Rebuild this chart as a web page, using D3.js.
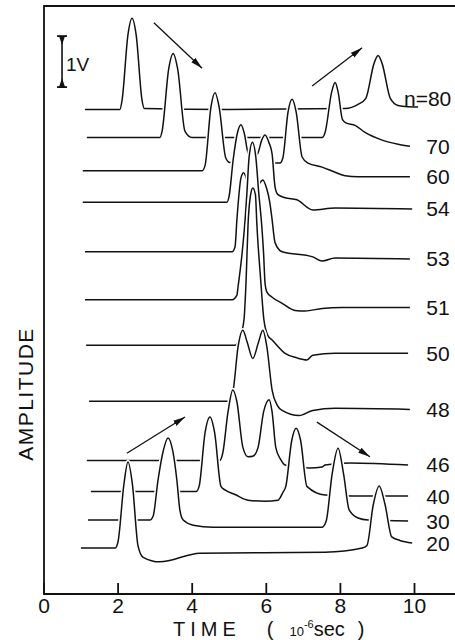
<!DOCTYPE html>
<html>
<head>
<meta charset="utf-8">
<script src="https://cdn.jsdelivr.net/npm/d3@7"></script>
<style>
body { margin: 0; background: #fff; }
svg text { font-family: "Liberation Sans", Arial, sans-serif; fill: #111; }
</style>
</head>
<body>
<script>
// section number of each trace, top to bottom
var labels = ["n=80", "70", "60", "54", "53", "51", "50", "48", "46", "40", "30", "20"];
// baseline of each trace (V above the time axis)
var offsets = [9.50, 8.95, 8.30, 7.68, 6.71, 5.77, 4.88, 3.78, 2.62, 2.01, 1.45, 0.90];

// [time (10^-6 sec), amplitude above own baseline (V)]
var trace80 = [[1.12,0],[2.06,0],[2.12,0.18],[2.28,1.47],[2.39,1.79],[2.50,1.47],[2.66,0.18],[2.72,0.02],[5.00,0],[8.14,0.02],[8.49,0.10],[8.70,0.22],[8.92,0.90],[9.03,1.06],[9.14,0.90],[9.36,0.22],[9.57,0.08],[9.76,0.06],[10.11,0.05]];
var trace70 = [[1.17,0],[3.14,0],[3.20,0.12],[3.38,1.35],[3.50,1.65],[3.62,1.35],[3.82,0.12],[4.01,0],[7.52,0],[7.60,0.10],[7.78,0.90],[7.87,1.08],[7.95,0.90],[8.07,0.35],[8.16,0.29],[8.41,0.24],[8.68,0.10],[9.14,-0.05],[9.57,-0.13],[9.89,-0.17]];
var trace60 = [[1.06,0],[4.28,0],[4.36,0.10],[4.52,1.25],[4.63,1.53],[4.74,1.25],[4.92,0.25],[5.03,0.16],[6.38,0.15],[6.46,0.25],[6.60,1.15],[6.71,1.40],[6.82,1.15],[6.98,0.27],[7.14,0.15],[7.52,0.07],[7.87,-0.03],[8.14,-0.10],[8.49,-0.12],[9.89,-0.12]];
var trace54 = [[1.06,0],[4.95,0],[5.01,0.12],[5.12,0.84],[5.24,1.38],[5.33,1.52],[5.42,1.35],[5.52,0.97],[5.65,0.86],[5.79,0.97],[5.89,1.22],[5.98,1.32],[6.08,1.18],[6.17,0.95],[6.25,0.30],[6.33,0.15],[6.52,0.09],[6.84,0.05],[7.27,-0.15],[7.87,-0.11],[9.95,-0.13]];
var trace53 = [[1.12,0],[5.09,0],[5.17,0.10],[5.22,0.63],[5.33,1.45],[5.40,1.55],[5.52,1.35],[5.65,1.25],[5.79,1.30],[5.92,1.41],[6.02,1.25],[6.11,0.96],[6.17,0.63],[6.25,0.18],[6.44,0],[7.27,-0.10],[7.52,-0.18],[7.87,-0.12],[9.89,-0.14]];
var trace51 = [[1.12,0],[5.09,0],[5.22,0.09],[5.25,0.25],[5.36,0.91],[5.44,1.56],[5.49,2.09],[5.55,2.80],[5.64,3.09],[5.73,2.80],[5.81,2.09],[5.89,1.46],[5.94,0.91],[5.98,0.32],[6.03,0.15],[6.17,0.05],[6.44,-0.07],[6.79,-0.21],[7.06,-0.22],[7.52,-0.17],[8.06,-0.15],[9.89,-0.15]];
var trace50 = [[1.15,0],[5.17,0],[5.30,0.15],[5.41,0.49],[5.47,1.30],[5.52,2.35],[5.59,2.95],[5.65,3.08],[5.72,2.95],[5.76,2.35],[5.86,1.30],[5.95,0.49],[6.06,0.18],[6.17,0.10],[6.52,-0.16],[6.84,-0.25],[7.11,-0.29],[7.27,-0.20],[7.87,-0.16],[9.84,-0.16]];
var trace48 = [[1.23,0],[4.98,0],[5.03,0.06],[5.12,0.22],[5.25,1.06],[5.38,1.39],[5.50,1.15],[5.65,0.84],[5.80,1.15],[5.92,1.39],[6.03,1.06],[6.17,0.22],[6.31,-0.08],[6.44,-0.18],[6.90,-0.28],[7.27,-0.18],[7.87,-0.14],[9.89,-0.16]];
var trace46 = [[1.17,0],[4.76,0],[4.84,0.15],[4.98,0.95],[5.11,1.38],[5.22,1.15],[5.38,0.26],[5.52,0.07],[5.65,0.08],[5.79,0.25],[5.94,0.95],[6.09,1.19],[6.17,0.95],[6.27,0.25],[6.40,0.02],[6.52,-0.09],[7.19,-0.15],[7.52,-0.13],[7.60,-0.09],[8.27,-0.05],[9.84,-0.09]];
var trace40 = [[1.28,0],[4.12,0],[4.20,0.10],[4.36,1.15],[4.49,1.46],[4.62,1.15],[4.79,0.10],[4.90,0.03],[5.17,-0.06],[5.52,-0.17],[5.98,-0.19],[6.33,-0.17],[6.46,-0.02],[6.54,0.10],[6.70,1.00],[6.82,1.24],[6.94,1.00],[7.11,0.10],[7.60,-0.07],[8.33,-0.09],[9.84,-0.09]];
var trace30 = [[1.20,0],[2.87,0],[2.96,0.08],[3.09,0.78],[3.23,1.35],[3.36,1.61],[3.49,1.35],[3.60,0.78],[3.68,0.20],[3.77,0],[4.04,-0.10],[4.58,-0.14],[7.52,-0.14],[7.63,-0.02],[7.79,0.90],[7.95,1.41],[8.10,0.90],[8.25,0.20],[8.49,0.04],[8.76,0],[9.84,-0.02]];
var trace20 = [[1.01,0],[1.93,0],[2.01,0.12],[2.17,1.25],[2.28,1.69],[2.40,1.25],[2.55,0.05],[2.69,-0.18],[3.14,-0.27],[4.22,-0.10],[7.60,-0.08],[8.60,0],[8.73,0.05],[8.90,0.85],[9.06,1.22],[9.22,0.85],[9.40,0.22],[9.62,0.15],[9.95,0.10]];

var traces = [trace80, trace70, trace60, trace54, trace53, trace51, trace50, trace48, trace46, trace40, trace30, trace20];

var timeTicks = [0, 2, 4, 6, 8, 10];

// arrows showing the two pulses moving: [t0, V0, t1, V1]
var arrows = [[2.98, 11.20, 4.28, 10.31], [7.25, 9.96, 8.60, 10.71], [2.25, 2.76, 3.82, 3.47], [7.38, 3.37, 8.81, 2.69]];

var width = 455;
var height = 640;

var svg = d3.select("body")
    .append("svg")
    .attr("width", width)
    .attr("height", height);

svg.append("rect").attr("width", width).attr("height", height).attr("fill", "#fff");

var x = d3.scaleLinear().domain([0, 10]).range([43.5, 414]);
var y = d3.scaleLinear().domain([0, 11.53]).range([594, 6]);

var line = d3.line()
    .x(function(d) { return x(d[0]); })
    .y(function(d) { return y(d[1]); })
    .curve(d3.curveMonotoneX);

var area = d3.area()
    .x(function(d) { return x(d[0]); })
    .y0(y(0))
    .y1(function(d) { return y(d[1]); })
    .curve(d3.curveMonotoneX);

// top trace first, so lower pulses hide the lines behind them
traces.forEach(function(tr, i) {
    var pts = tr.map(function(d) { return [d[0], d[1] + offsets[i]]; });
    var g = svg.append("g");
    g.append("path").datum(pts).attr("d", area).attr("fill", "#fff");
    g.append("path").datum(pts).attr("d", line)
        .attr("fill", "none").attr("stroke", "#fff").attr("stroke-width", 4.5);
    g.append("path").datum(pts).attr("d", line)
        .attr("fill", "none").attr("stroke", "#111").attr("stroke-width", 1.5)
        .attr("stroke-linejoin", "round");

    var last = tr[tr.length - 1];
    var ly = y(last[1] + offsets[i]);
    svg.append("text")
        .attr("x", i === 0 ? x(9.73) : x(10.33))
        .attr("y", i === 0 ? ly - 1 : ly + 7.5)
        .attr("font-size", 21)
        .text(labels[i]);
});

// arrow heads
var defs = svg.append("defs");
defs.append("marker")
    .attr("id", "head")
    .attr("viewBox", "0 0 12 8")
    .attr("refX", 12).attr("refY", 4)
    .attr("markerWidth", 12).attr("markerHeight", 8)
    .attr("markerUnits", "userSpaceOnUse")
    .attr("orient", "auto")
    .append("path").attr("d", "M0,1 L12,4 L0,7 Z").attr("fill", "#111");

svg.selectAll(".arrow")
    .data(arrows)
    .enter()
    .append("line")
    .attr("class", "arrow")
    .attr("x1", function(d) { return x(d[0]); })
    .attr("y1", function(d) { return y(d[1]); })
    .attr("x2", function(d) { return x(d[2]); })
    .attr("y2", function(d) { return y(d[3]); })
    .attr("stroke", "#111").attr("stroke-width", 1.3)
    .attr("marker-end", "url(#head)");

// 1V scale bar
var sbT = 0.5, sbLo = 9.94, sbHi = 10.94;
var sx = x(sbT);
var sb = svg.append("g").attr("stroke", "#111").attr("fill", "#111");
sb.append("line").attr("x1", sx).attr("x2", sx).attr("y1", y(sbHi)).attr("y2", y(sbLo)).attr("stroke-width", 1.6);
sb.append("line").attr("x1", sx - 5).attr("x2", sx + 5).attr("y1", y(sbHi)).attr("y2", y(sbHi)).attr("stroke-width", 1.8);
sb.append("line").attr("x1", sx - 5).attr("x2", sx + 5).attr("y1", y(sbLo)).attr("y2", y(sbLo)).attr("stroke-width", 1.8);
sb.append("path").attr("stroke", "none")
    .attr("d", "M" + (sx - 3) + "," + y(sbHi) + "L" + (sx + 3) + "," + y(sbHi) + "L" + sx + "," + (y(sbHi) + 9) + "Z");
sb.append("path").attr("stroke", "none")
    .attr("d", "M" + (sx - 3) + "," + y(sbLo) + "L" + (sx + 3) + "," + y(sbLo) + "L" + sx + "," + (y(sbLo) - 9) + "Z");
svg.append("text").attr("x", sx + 4).attr("y", y(sbLo) - 16).attr("font-size", 19).text("1V");

// frame
svg.append("path")
    .attr("d", "M" + width + "," + y(11.53) + "H" + (x(0) + 0.5) + "V" + y(0) + "H" + width)
    .attr("fill", "none").attr("stroke", "#111").attr("stroke-width", 1.8);

// time axis: ticks point up into the plot
var xAxis = d3.axisBottom(x)
    .tickValues(timeTicks)
    .tickSizeInner(-11)
    .tickSizeOuter(0)
    .tickPadding(4)
    .tickFormat(d3.format("d"));

var ax = svg.append("g")
    .attr("transform", "translate(0," + y(0) + ")")
    .call(xAxis);
ax.select(".domain").remove();
ax.attr("font-family", "Liberation Sans, Arial, sans-serif").attr("font-size", 21);
ax.selectAll("line").attr("stroke", "#111").attr("stroke-width", 1.8);
ax.selectAll("text").attr("fill", "#111");

// axis titles
var tt = svg.append("text").attr("x", 173).attr("y", 636).attr("font-size", 20);
tt.append("tspan").attr("letter-spacing", 5).text("TIME");
tt.append("tspan").attr("dx", 26).text("(");
tt.append("tspan").attr("dx", 16).attr("font-size", 13).text("10");
tt.append("tspan").attr("dy", -8).attr("font-size", 11).text("-6");
tt.append("tspan").attr("dy", 8).text("sec");
tt.append("tspan").attr("dx", 13).text(")");

svg.append("text")
    .attr("transform", "translate(33,394) rotate(-90)")
    .attr("text-anchor", "middle")
    .attr("font-size", 21)
    .attr("letter-spacing", 1.5)
    .text("AMPLITUDE");
</script>
</body>
</html>
